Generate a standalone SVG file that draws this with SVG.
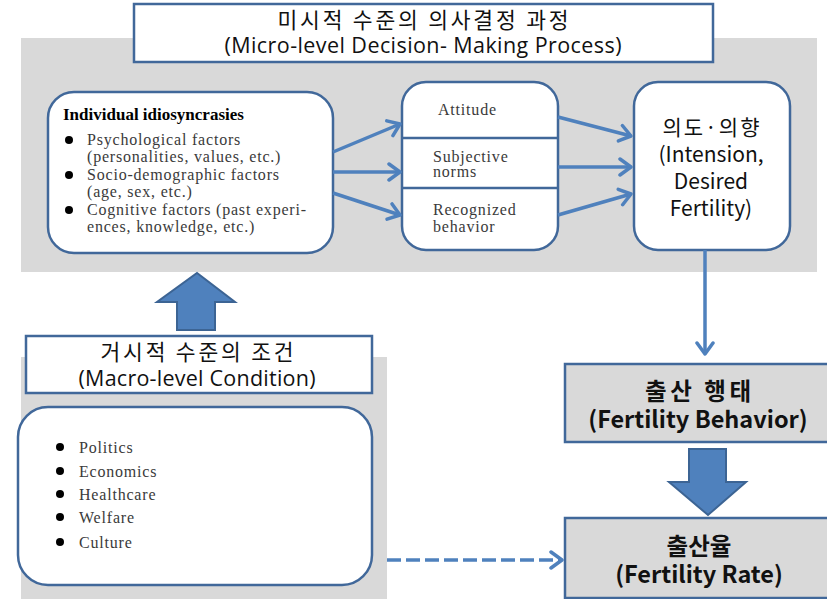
<svg xmlns="http://www.w3.org/2000/svg" width="827" height="599" viewBox="0 0 827 599">
<style>
.bg{fill:#D9D9D9}
.box{fill:#FFFFFF;stroke:#41689A;stroke-width:2.5}
.gbox{fill:#D9D9D9;stroke:#41689A;stroke-width:2.5}
.ko{font-family:"Noto Sans CJK KR","Open Sans",sans-serif;fill:#111}
.lat{font-family:"Open Sans","Noto Sans CJK KR",sans-serif}
.ser{font-family:"Liberation Serif","DejaVu Serif",serif;fill:#3A3A3A;font-size:16px;letter-spacing:0.8px}
.conn{fill:none;stroke:#4F81BD;stroke-width:3.5}
.big{fill:#4F81BD;stroke:#3C6494;stroke-width:2}
</style>
<defs>
<marker id="chev" viewBox="-13 -10 15 20" refX="0" refY="0" markerWidth="15" markerHeight="20" markerUnits="userSpaceOnUse" orient="auto">
<path d="M-11,-8 L0,0 L-11,8" fill="none" stroke="#4F81BD" stroke-width="3.5" stroke-linecap="round" stroke-linejoin="round"/>
</marker>
</defs>
<rect class="bg" x="21" y="38" width="796" height="234"/>
<rect class="bg" x="21" y="357" width="366" height="242"/>

<g id="micro-title">
<rect x="134" y="4" width="579" height="58" fill="#FFFFFF" stroke="#41689A" stroke-width="2.5"/>
<text class="ko" font-size="21.5" text-anchor="middle"><tspan x="423" y="28" textLength="291" lengthAdjust="spacing">미시적 수준의 의사결정 과정</tspan><tspan class="lat" x="423" y="53" textLength="397" lengthAdjust="spacing">(Micro-level Decision- Making Process)</tspan></text>
</g>

<g id="individual">
<rect class="box" x="48" y="92" width="285" height="161" rx="26"/>
<text x="63" y="120" font-family="Liberation Serif,serif" font-weight="bold" font-size="17" fill="#000">Individual idiosyncrasies</text>
<circle cx="69" cy="140" r="4" fill="#000"/>
<circle cx="69" cy="175" r="4" fill="#000"/>
<circle cx="69" cy="210" r="4" fill="#000"/>
<text class="ser"><tspan x="87" y="145">Psychological factors</tspan><tspan x="87" y="162">(personalities, values, etc.)</tspan></text>
<text class="ser"><tspan x="87" y="180">Socio-demographic factors</tspan><tspan x="87" y="197">(age, sex, etc.)</tspan></text>
<text class="ser"><tspan x="87" y="215">Cognitive factors (past experi-</tspan><tspan x="87" y="232">ences, knowledge, etc.)</tspan></text>
</g>

<g id="tpb">
<rect class="box" x="402" y="82" width="156" height="168" rx="24"/>
<line x1="402" y1="138" x2="558" y2="138" stroke="#41689A" stroke-width="2.5"/>
<line x1="402" y1="188" x2="558" y2="188" stroke="#41689A" stroke-width="2.5"/>
<text class="ser" x="438" y="115">Attitude</text>
<text class="ser"><tspan x="433" y="162">Subjective</tspan><tspan x="433" y="177">norms</tspan></text>
<text class="ser"><tspan x="433" y="215">Recognized</tspan><tspan x="433" y="232">behavior</tspan></text>
</g>

<g id="intention">
<rect class="box" x="634" y="82" width="156" height="168" rx="24"/>
<text class="ko" font-size="21" text-anchor="middle"><tspan x="711" y="135" textLength="97" lengthAdjust="spacing">의도·의향</tspan><tspan x="711" y="162">(Intension,</tspan><tspan x="711" y="189">Desired</tspan><tspan x="711" y="216">Fertility)</tspan></text>
</g>

<g id="macro-title">
<rect x="26" y="336" width="346" height="57" fill="#FFFFFF" stroke="#41689A" stroke-width="2.5"/>
<text class="ko" font-size="21.5" text-anchor="middle"><tspan x="197" y="360" textLength="193" lengthAdjust="spacing">거시적 수준의 조건</tspan><tspan class="lat" x="197" y="386" textLength="237" lengthAdjust="spacing">(Macro-level Condition)</tspan></text>
</g>

<g id="macro">
<rect class="box" x="18" y="407" width="354" height="178" rx="30"/>
<circle cx="60" cy="447" r="4" fill="#000"/>
<circle cx="60" cy="471" r="4" fill="#000"/>
<circle cx="60" cy="494" r="4" fill="#000"/>
<circle cx="60" cy="517" r="4" fill="#000"/>
<circle cx="60" cy="542" r="4" fill="#000"/>
<text class="ser" x="79" y="453">Politics</text>
<text class="ser" x="79" y="477">Economics</text>
<text class="ser" x="79" y="500">Healthcare</text>
<text class="ser" x="79" y="523">Welfare</text>
<text class="ser" x="79" y="548">Culture</text>
</g>

<g id="behavior">
<rect class="gbox" x="565" y="364" width="270" height="78"/>
<text class="ko" font-size="23.5" font-weight="bold" text-anchor="middle"><tspan x="698" y="400" textLength="106" lengthAdjust="spacing">출산 행태</tspan><tspan x="698" y="428">(Fertility Behavior)</tspan></text>
</g>

<g id="rate">
<rect class="gbox" x="565" y="518" width="270" height="80"/>
<text class="ko" font-size="23.5" font-weight="bold" text-anchor="middle"><tspan x="699" y="555">출산율</tspan><tspan x="699" y="583">(Fertility Rate)</tspan></text>
</g>

<g id="connectors">
<line class="conn" x1="333" y1="152" x2="400" y2="124" marker-end="url(#chev)"/>
<line class="conn" x1="333" y1="172" x2="400" y2="172" marker-end="url(#chev)"/>
<line class="conn" x1="333" y1="193" x2="400" y2="215" marker-end="url(#chev)"/>
<line class="conn" x1="558" y1="117" x2="631" y2="136" marker-end="url(#chev)"/>
<line class="conn" x1="558" y1="167" x2="631" y2="167" marker-end="url(#chev)"/>
<line class="conn" x1="558" y1="215" x2="631" y2="194" marker-end="url(#chev)"/>
<line class="conn" x1="705" y1="250" x2="705" y2="354" stroke-width="2.5" marker-end="url(#chev)"/>
<line class="conn" x1="387" y1="560" x2="562" y2="560" stroke-width="4" stroke-dasharray="14 5" marker-end="url(#chev)"/>
<polygon class="big" points="177,330 215,330 215,302 235,302 197,273 157,302 177,302"/>
<polygon class="big" points="689,449 726,449 726,482 746,482 708,515 669,482 689,482"/>
</g>
</svg>
